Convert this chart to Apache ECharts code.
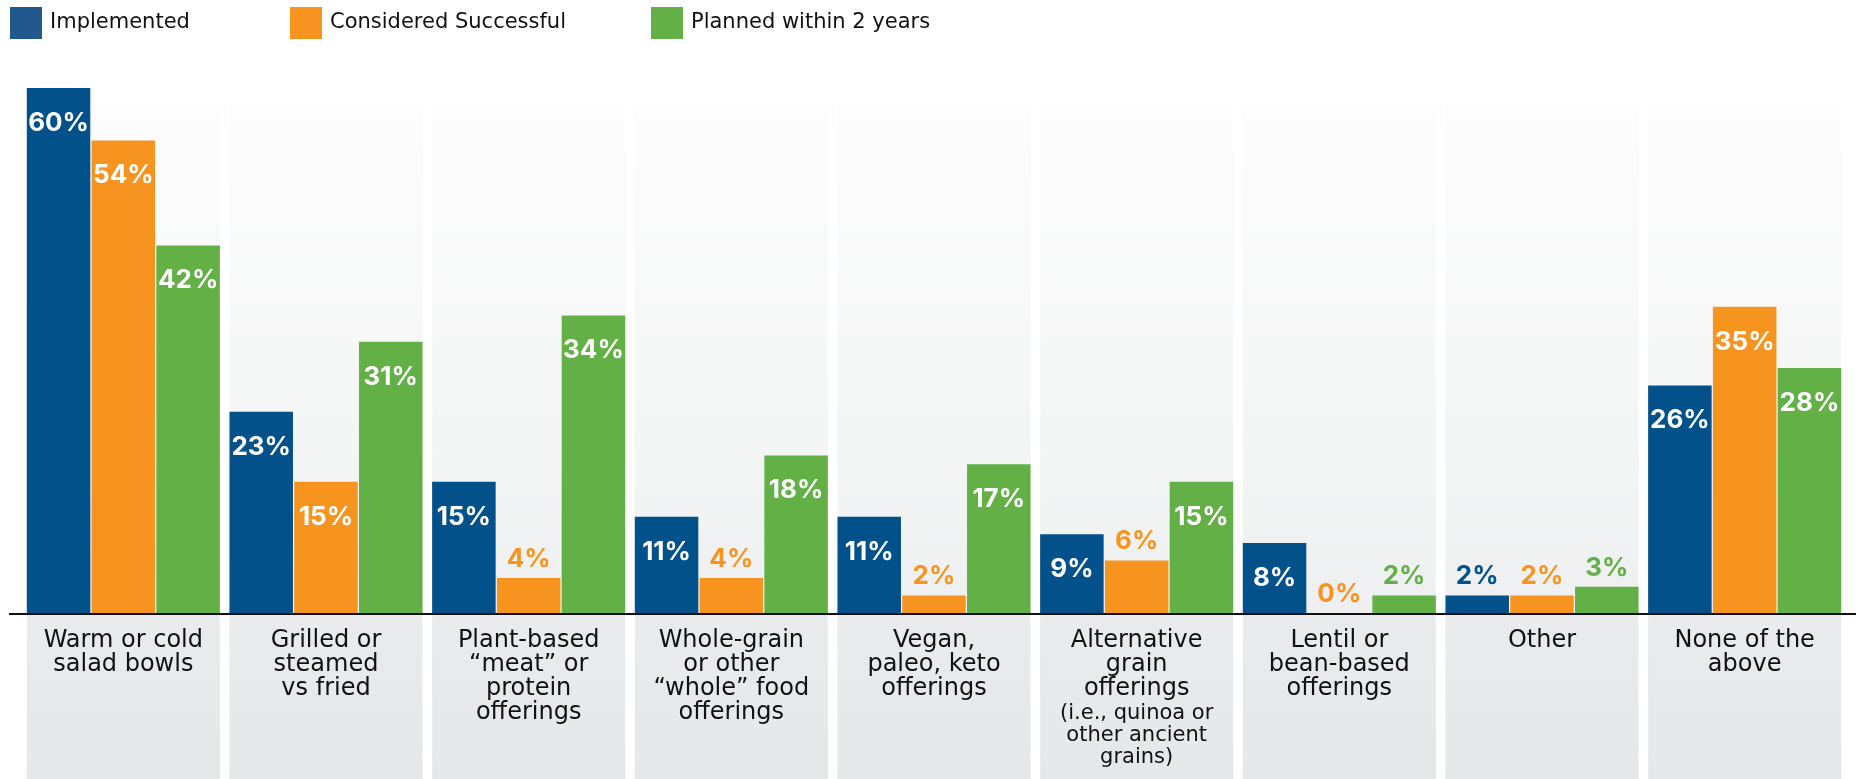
<!DOCTYPE html>
<html>
<head>
<meta charset="utf-8">
<script src="https://cdn.jsdelivr.net/npm/echarts@6/dist/echarts.min.js"></script>
<style>
  html, body { margin: 0; padding: 0; background: #ffffff; }
  #chart { width: 1856px; height: 779px; }
</style>
</head>
<body>
<div id="chart"></div>
<script>
// Menu offerings: share of operators by status
const categories = [
  'Warm or cold\nsalad bowls',
  'Grilled or\nsteamed\nvs fried',
  'Plant-based\n\u201Cmeat\u201D or\nprotein\nofferings',
  'Whole-grain\nor other\n\u201Cwhole\u201D food\nofferings',
  'Vegan,\npaleo, keto\nofferings',
  'Alternative\ngrain\nofferings',
  'Lentil or\nbean-based\nofferings',
  'Other',
  'None of the\nabove'
];
// Smaller explanatory note under a category name ('' = none)
const categoryNotes = ['', '', '', '', '', '(i.e., quinoa or\nother ancient\ngrains)', '', '', ''];

const seriesNames = ['Implemented', 'Considered Successful', 'Planned within 2 years'];
const implemented = [60, 23, 15, 11, 11, 9, 8, 2, 26];
const successful  = [54, 15, 4, 4, 2, 6, 0, 2, 35];
const planned     = [42, 31, 34, 18, 17, 15, 2, 3, 28];

const barColors    = ['#03518a', '#f79420', '#62b046'];
const legendColors = ['#21588e', '#f79420', '#62b046'];

const TEXT_FONT = 'DejaVu Sans';
const VALUE_FONT = 'Inter';

// Labels sit inside tall bars (white), above short ones (in the bar colour)
function barData(values, color) {
  return values.map(v => ({
    value: v,
    label: v >= 8
      ? { position: 'insideTop', distance: 22, color: '#ffffff' }
      : { position: 'top', distance: 6, color: color }
  }));
}

function seriesFor(i, values) {
  return {
    name: seriesNames[i],
    type: 'bar',
    xAxisIndex: 0,
    yAxisIndex: 0,
    z: 3,
    barGap: '2%',
    barCategoryGap: '4.74%',
    itemStyle: { color: barColors[i] },
    label: {
      show: true,
      formatter: '{c}%',
      fontFamily: VALUE_FONT,
      fontWeight: 700,
      fontSize: 26,
      lineHeight: 26
    },
    data: barData(values, barColors[i])
  };
}

function legendFor(i, left) {
  return {
    left: left,
    top: 7,
    padding: 0,
    icon: 'rect',
    itemWidth: 32,
    itemHeight: 32,
    selectedMode: false,
    textStyle: {
      fontFamily: TEXT_FONT,
      fontSize: 21,
      color: '#111111',
      padding: [0, 0, 0, 3]
    },
    data: [{ name: seriesNames[i], itemStyle: { color: legendColors[i] } }]
  };
}

const chart = echarts.init(document.getElementById('chart'), null, { renderer: 'canvas' });

const option = {
  backgroundColor: '#ffffff',
  animation: false,
  legend: [legendFor(0, 10), legendFor(1, 290), legendFor(2, 651)],
  grid: [
    { left: 22, right: 10, top: 88, bottom: 166 },   // bars
    { left: 22, right: 10, top: 105, bottom: 0 }     // group panels
  ],
  xAxis: [
    {
      type: 'category',
      gridIndex: 0,
      data: categories,
      axisLine: { show: false },
      axisTick: { show: false },
      axisLabel: {
        interval: 0,
        margin: 16,
        color: '#111111',
        fontFamily: TEXT_FONT,
        fontSize: 24,
        lineHeight: 24,
        formatter: function (value, idx) {
          const note = categoryNotes[idx];
          if (!note) return value;
          const noteLines = note.split('\n').map(l => '{note|' + l + '}').join('\n');
          return value + '\n' + noteLines;
        },
        rich: {
          note: { fontFamily: TEXT_FONT, fontSize: 21, lineHeight: 22, color: '#111111', padding: [4, 0, 0, 0] }
        }
      }
    },
    {
      type: 'category',
      gridIndex: 1,
      data: categories,
      show: false
    }
  ],
  yAxis: [
    { type: 'value', gridIndex: 0, min: 0, max: 60, show: false, splitLine: { show: false } },
    { type: 'value', gridIndex: 1, min: 0, max: 1, show: false, splitLine: { show: false } }
  ],
  series: [
    {
      name: 'panels',
      type: 'bar',
      xAxisIndex: 1,
      yAxisIndex: 1,
      z: 0,
      silent: true,
      barWidth: '95.26%',
      itemStyle: {
        color: new echarts.graphic.LinearGradient(0, 0, 0, 1, [
          { offset: 0, color: '#fdfdfd' },
          { offset: 0.5, color: '#f4f5f5' },
          { offset: 0.754, color: '#eeeff0' },
          { offset: 0.756, color: '#eaebec' },
          { offset: 1, color: '#e6e7e8' }
        ])
      },
      data: categories.map(() => 1)
    },
    seriesFor(0, implemented),
    seriesFor(1, successful),
    seriesFor(2, planned)
  ]
};

chart.setOption(option);

// Baseline rule across the full width, placed at the value-axis zero
const baseY = chart.convertToPixel({ yAxisIndex: 0 }, 0);
chart.setOption({
  graphic: [{
    type: 'rect',
    z: 10,
    shape: { x: 9, y: baseY, width: 1856 - 9, height: 2 },
    style: { fill: '#111111' },
    silent: true
  }]
});
</script>
</body>
</html>
